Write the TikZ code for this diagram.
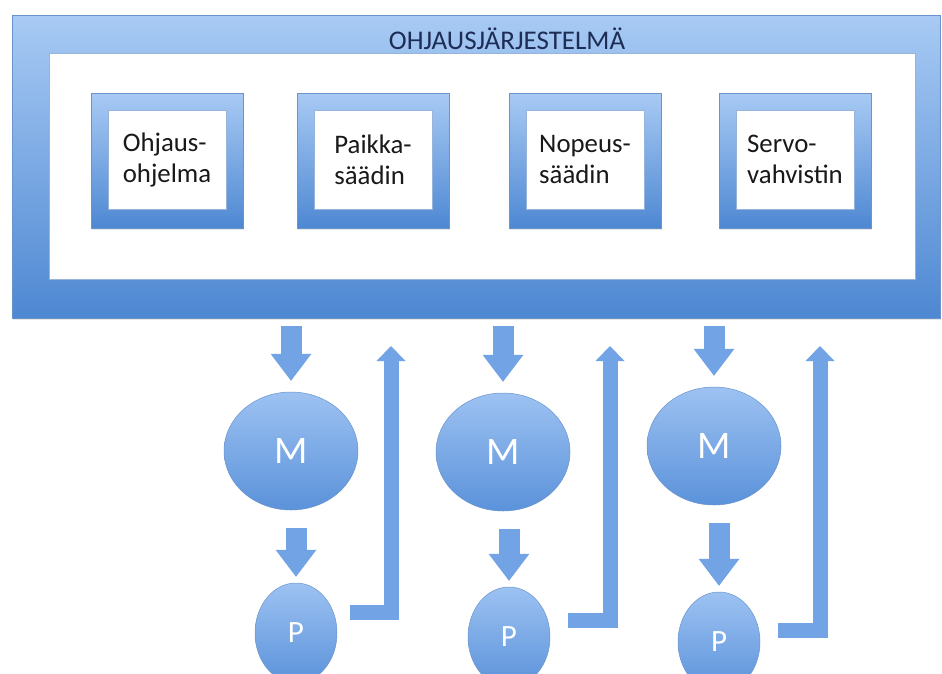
\documentclass[tikz,border=0pt]{standalone}
\usepackage{fontspec}
\setmainfont{Carlito}
\usetikzlibrary{arrows.meta, positioning, shapes.geometric, shadows}

\definecolor{lightblue}{HTML}{A8CAF4}
\definecolor{darkblue}{HTML}{4E88D2}
\definecolor{balltop}{HTML}{9DC2F2}
\definecolor{ballbottom}{HTML}{5B92DA}
\definecolor{rimblue}{HTML}{6A94CC}
\definecolor{arrowblue}{HTML}{72A3E4}
\definecolor{titleblue}{HTML}{1E2D55}

\tikzset{
  frame/.style={rectangle, draw=rimblue, line width=0.5pt, top color=lightblue, bottom color=darkblue,
    inner sep=0pt, drop shadow={opacity=0.2, shadow xshift=1pt, shadow yshift=-2pt}},
  panel/.style={rectangle, draw=rimblue!70, line width=0.5pt, fill=white, inner sep=0pt, align=left,
    font=\fontsize{26.8}{31}\selectfont, text=black!90},
  ball/.style={draw=rimblue, line width=0.5pt, top color=balltop, bottom color=ballbottom,
    text=white, inner sep=0pt, ellipse},
  motor/.style={ball, minimum width=134pt, minimum height=118pt, font=\fontsize{39}{39}\selectfont},
  sensor/.style={ball, minimum width=82pt, minimum height=100pt, font=\fontsize{31}{31}\selectfont},
  feed/.style={arrowblue, line width=21pt, -{Triangle[width=41pt, length=27pt, line width=0pt]}},
  back/.style={arrowblue, line width=15pt, line join=miter, -{Triangle[width=29pt, length=15pt, line width=0pt]}}
}

\begin{document}
\begin{tikzpicture}[x=1pt, y=-1pt]
    \useasboundingbox (0,0) rectangle (942,673);
    % control system frame
    \node[frame, minimum width=928pt, minimum height=303pt] (sysframe) at (476,166.5) {};
    \node[rectangle, draw=rimblue!70, line width=0.5pt, fill=white, minimum width=866pt, minimum height=226pt] (syswin) at (482,166) {};
    \node[font=\fontsize{27}{27}\selectfont, text=titleblue, anchor=base] (title) at (507,49) {OHJAUSJÄRJESTELMÄ};
    % units inside
    \foreach \name/\x/\txt in {ctrl/167/{Ohjaus-\\ohjelma}, pos/373/{Paikka-\\säädin}, spd/585/{Nopeus-\\säädin}, amp/795/{Servo-\\vahvistin}} {
        \node[frame, minimum width=152pt, minimum height=135pt] (\name-box) at (\x,160.5) {};
        \node[panel, minimum width=118pt, minimum height=99pt] (\name) at (\x,159.5) {\txt};
    }
    % motors, sensors and feedback
    \foreach \i/\mx/\my/\px/\py/\gap/\dy/\fx in {1/291/451/296/633/13/21/391, 2/503/452/509/637/18/17/610, 3/714/446/719/642/18/12/820} {
        \node[motor] (m\i) at (\mx,\my) {M};
        \node[sensor] (p\i) at (\px,\py) {P};
        \coordinate (fb\i) at (\fx,346);
        \draw[feed, shorten <=8pt, shorten >=11pt] (sysframe.south -| m\i.north) -- (m\i.north);
        \draw[feed, shorten <=18pt, shorten >=6pt] (m\i.south -| p\i.north) -- (p\i.north);
        \draw[back] ([xshift=\gap pt, yshift=\dy pt]p\i.east) -| (fb\i);
    }
\end{tikzpicture}
\end{document}
